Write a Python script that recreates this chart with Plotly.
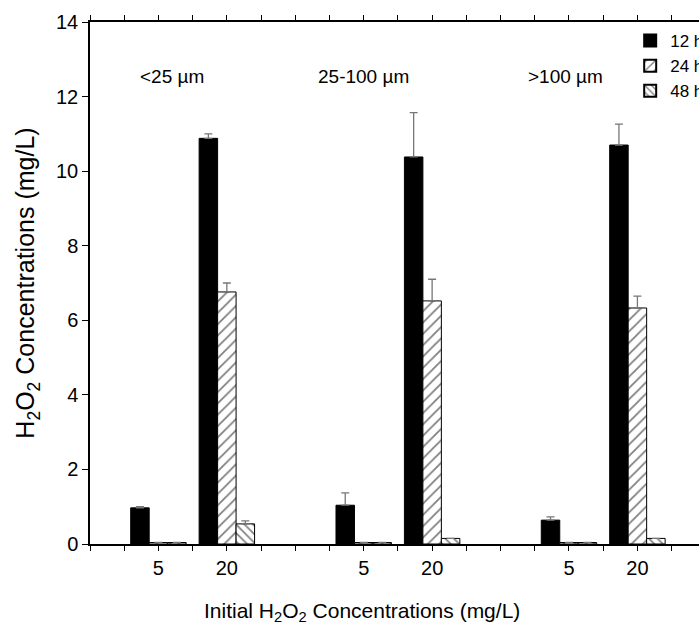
import plotly.graph_objects as go

# ---- data ----
x_pos = [2, 4, 8, 10, 14, 16]
x_labels = ["5", "20", "5", "20", "5", "20"]
series_names = ["12 h", "24 h", "48 h"]
h12 = [0.97, 10.88, 1.04, 10.38, 0.64, 10.70]
h12_err = [0.03, 0.12, 0.33, 1.19, 0.09, 0.56]
h24 = [0.04, 6.76, 0.04, 6.52, 0.04, 6.33]
h24_err = [0, 0.24, 0, 0.58, 0, 0.32]
h48 = [0.04, 0.54, 0.04, 0.15, 0.04, 0.15]
h48_err = [0, 0.08, 0, 0, 0, 0]
size_labels = ["<25 µm", "25-100 µm", ">100 µm"]
size_label_x = [2.4, 8.0, 13.9]
size_label_y = 12.55

FONT = "Liberation Sans, Arial, sans-serif"
bar_w = 0.54
offsets = [-1.5 * bar_w, -0.5 * bar_w, 0.5 * bar_w]
patterns = [
    dict(shape=""),
    dict(shape="/", fgcolor="black", bgcolor="white", size=8, solidity=0.22),
    dict(shape="\\", fgcolor="black", bgcolor="white", size=6, solidity=0.28),
]
values = [h12, h24, h48]
errors = [h12_err, h24_err, h48_err]
colors = ["black", "white", "white"]

fig = go.Figure()
for name, vals, errs, off, pat, col in zip(series_names, values, errors, offsets, patterns, colors):
    fig.add_trace(go.Bar(
        x=x_pos, y=vals, name=name,
        width=bar_w, offset=off,
        marker=dict(color=col, line=dict(color="black", width=1), pattern=pat),
        error_y=dict(type="data", array=errs, arrayminus=[0] * len(errs), symmetric=False,
                     color="#777777", thickness=1.3, width=4),
    ))

for lab, lx in zip(size_labels, size_label_x):
    fig.add_annotation(x=lx, y=size_label_y, text=lab, showarrow=False,
                       font=dict(size=19, color="black", family=FONT),
                       xref="x", yref="y")

# x-axis title (centred under the middle group, as in the reference)
fig.add_annotation(x=0.447, y=-0.130, xref="paper", yref="paper",
                   text="Initial H<sub>2</sub>O<sub>2</sub> Concentrations (mg/L)",
                   showarrow=False, xanchor="center", yanchor="middle",
                   font=dict(size=21, color="black", family=FONT))

fig.update_layout(
    width=699, height=640,
    margin=dict(l=90, r=0, t=22, b=96, autoexpand=False),
    plot_bgcolor="white", paper_bgcolor="white",
    font=dict(family=FONT, color="black", size=20),
    barmode="overlay",
    showlegend=True,
    legend=dict(x=0.887, y=0.998, xanchor="left", yanchor="top",
                font=dict(size=17, family=FONT), bgcolor="rgba(0,0,0,0)",
                tracegroupgap=0, itemsizing="constant"),
    xaxis=dict(range=[0, 17.8], tickvals=x_pos, ticktext=x_labels,
               showline=True, linecolor="black", linewidth=1.5, mirror="ticks",
               ticks="outside", ticklen=5, tickcolor="black", showgrid=False, zeroline=False,
               minor=dict(dtick=1, tick0=0, ticks="outside", ticklen=5, tickcolor="black"),
               tickfont=dict(size=20)),
    yaxis=dict(range=[0, 14], dtick=2, showline=True, linecolor="black", linewidth=1.5,
               ticks="outside", ticklen=6, tickcolor="black", showgrid=False, zeroline=False,
               tickfont=dict(size=20),
               title=dict(text="H<sub>2</sub>O<sub>2</sub> Concentrations (mg/L)",
                          font=dict(size=25), standoff=14)),
)

fig.write_html(
    "out.html",
    config={"displayModeBar": False},
    post_script="document.body.style.margin='0';document.body.style.overflow='hidden';",
)
